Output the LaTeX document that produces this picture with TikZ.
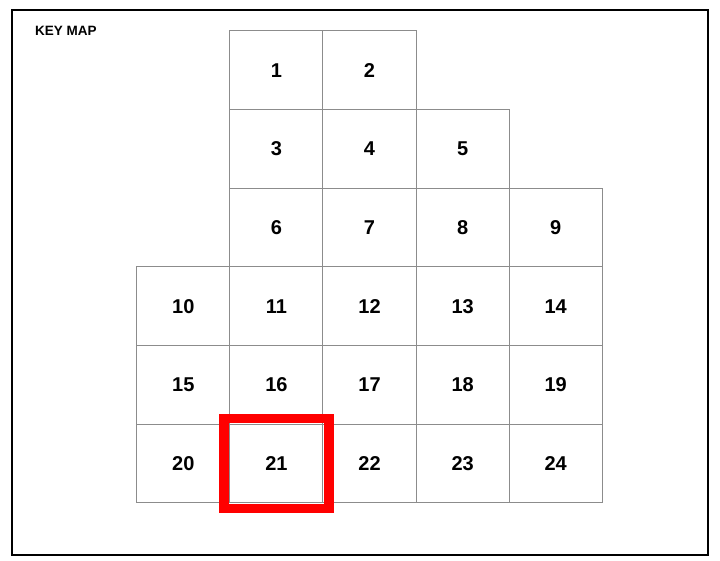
\documentclass[tikz,border=0pt]{standalone}
\usepackage{fontspec}
\setmainfont{Liberation Sans}
\begin{document}
\begin{tikzpicture}[x=1pt,y=-1pt,
  cell/.style={draw=black!45, line width=1pt, minimum width=93.12pt, minimum height=78.62pt,
    inner sep=0pt, font=\fontsize{20}{24}\selectfont\bfseries},
  hl/.style={draw=red, line width=9.5pt},
  frame/.style={draw=black, line width=2pt}]
\useasboundingbox (0,0) rectangle (720,561);
\draw[frame] (12,10) rectangle (708,555);
\node[anchor=base west, inner sep=0pt, font=\fontsize{13.5}{16}\selectfont\bfseries] (title) at (35,36) {KEY MAP};
\foreach \n/\c/\r in {1/1/0,2/2/0,3/1/1,4/2/1,5/3/1,6/1/2,7/2/2,8/3/2,9/4/2,
  10/0/3,11/1/3,12/2/3,13/3/3,14/4/3,15/0/4,16/1/4,17/2/4,18/3/4,19/4/4,
  20/0/5,21/1/5,22/2/5,23/3/5,24/4/5}
  \node[cell] (c\n) at ({136.7+93.12*\c+46.56},{31+78.62*\r+39.31}) {\n};
\draw[hl] ([shift={(-5.5,-5)}]c21.north west) rectangle ([shift={(5.5,5.5)}]c21.south east);
\end{tikzpicture}
\end{document}
